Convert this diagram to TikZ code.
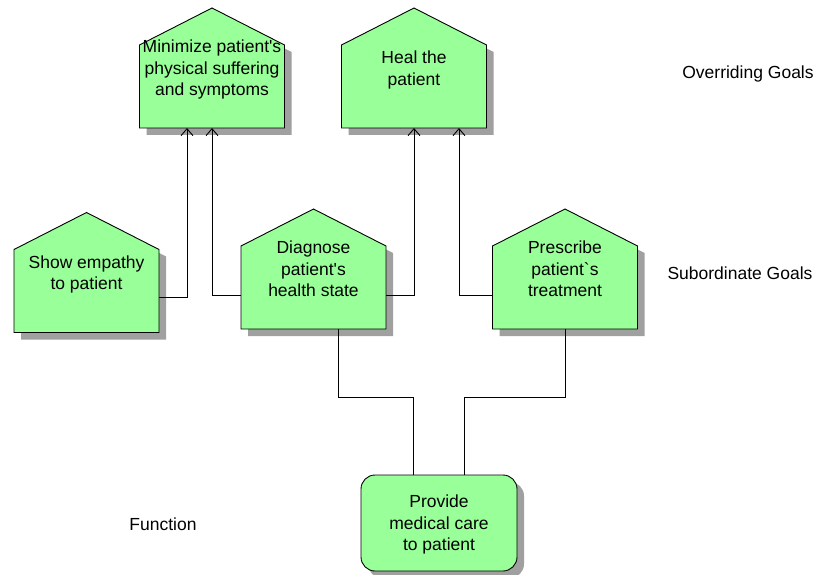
\documentclass[tikz,border=0pt]{standalone}
\usepackage{fontspec}
\setmainfont{Liberation Sans}
\usetikzlibrary{arrows.meta,shadows,backgrounds}
\definecolor{goalgreen}{RGB}{153,255,153}
\definecolor{shadowgray}{RGB}{160,160,160}
\tikzset{
goal/.style={minimum width=145pt,minimum height=120pt,inner sep=0pt,outer sep=0pt,align=center,font=\fontsize{17.5}{21.5}\selectfont,text depth=-6pt},
func/.style={goal,minimum width=156pt,minimum height=96pt,rounded corners=14pt,draw,line width=0.9pt,fill=goalgreen,drop shadow={shadow xshift=7pt,shadow yshift=-7pt,fill=shadowgray,opacity=1}},
house/.style={draw,line width=0.9pt,fill=goalgreen,drop shadow={shadow xshift=7pt,shadow yshift=-7pt,fill=shadowgray,opacity=1}},
levelname/.style={font=\fontsize{17.5}{21.5}\selectfont},
link/.style={line width=0.9pt},
upto/.style={link,-{Straight Barb[length=7pt,width=12pt]}}
}
\begin{document}
\begin{tikzpicture}[x=1pt,y=-1pt]
\useasboundingbox (0,0) rectangle (814,575);

% goals
\node[goal] (mini) at (212,68) {Minimize patient\textquotesingle s\\physical suffering\\and symptoms};
\node[goal] (heal) at (414,68) {Heal the\\patient};
\node[goal] (empathy) at (86.5,272.5) {Show empathy\\to patient};
\node[goal] (diag) at (313.5,269) {Diagnose\\patient\textquotesingle s\\health state};
\node[goal] (presc) at (565,269) {Prescribe\\patient\textasciigrave s\\treatment};
\node[func] (care) at (439,523) {Provide\\medical care\\to patient};

\begin{scope}[on background layer]
\foreach \n in {mini,heal,empathy,diag,presc}
{
\filldraw[house] (\n.south west) -- ([yshift=-37pt]\n.north west) -- (\n.north) -- ([yshift=-37pt]\n.north east) -- (\n.south east) -- cycle;
}
\end{scope}

% level names
\node[levelname] (overriding) at (748,74) {Overriding Goals};
\node[levelname] (subordinate) at (740,273) {Subordinate Goals};
\node[levelname] (function) at (163,524) {Function};

% links
\draw[upto] ([yshift=-25pt]empathy.east) -| ([xshift=-25pt]mini.south);
\draw[upto] ([yshift=-26pt]diag.west) -| (mini.south);
\draw[upto] ([yshift=-26pt]diag.east) -| (heal.south);
\draw[upto] ([yshift=-26pt]presc.west) -| ([xshift=45pt]heal.south);
\draw[link] ([xshift=25pt]diag.south) -- ++(0,68) -| ([xshift=-26pt]care.north);
\draw[link] (presc.south) -- ++(0,68) -| ([xshift=25pt]care.north);
\end{tikzpicture}
\end{document}
